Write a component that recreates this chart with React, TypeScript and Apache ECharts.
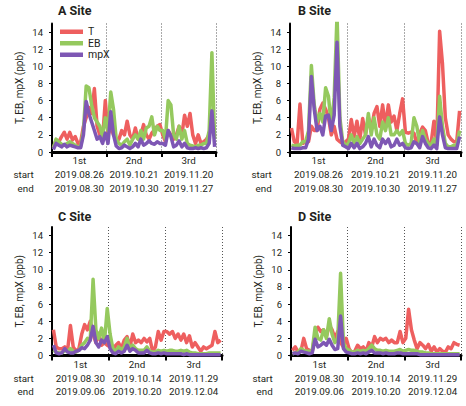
import React, { useEffect, useRef } from "react";
import * as echarts from "echarts";

// Three sampling campaigns per site, 20 readings each (ppb)
const segLabels = ["1st", "2nd", "3rd"];
const yTicks = [0, 2, 4, 6, 8, 10, 12, 14];

const A_start = ["2019.08.26", "2019.10.21", "2019.11.20"];
const A_end = ["2019.08.30", "2019.10.30", "2019.11.27"];
const B_start = ["2019.08.26", "2019.10.21", "2019.11.20"];
const B_end = ["2019.08.30", "2019.10.30", "2019.11.27"];
const C_start = ["2019.08.30", "2019.10.14", "2019.11.29"];
const C_end = ["2019.09.06", "2019.10.20", "2019.12.04"];
const D_start = ["2019.08.30", "2019.10.14", "2019.11.29"];
const D_end = ["2019.09.06", "2019.10.20", "2019.12.04"];

const A_T = [
  0.5, 1.4, 1.2, 1.8, 2.3, 1.5, 2.3, 1.4, 1.8, 1.0, 1.2, 3.0, 4.0, 5.2, 4.5, 7.4, 3.0, 2.0, 1.5, 6.0,
  2.0, 3.0, 2.0, 1.5, 1.5, 2.5, 2.0, 3.6, 2.0, 1.5, 2.8, 1.5, 2.0, 3.2, 2.0, 1.5, 2.2, 2.6, 3.0, 3.2,
  2.0, 1.2, 2.5, 2.0, 1.5, 2.0, 3.0, 2.0, 4.3, 3.0, 4.5, 2.0, 1.0, 2.0, 1.0, 1.2, 1.5, 2.0, 3.5, 1.9,
];
const A_EB = [
  0.5, 1.5, 1.2, 0.9, 0.8, 1.0, 1.2, 1.0, 0.8, 0.6, 0.7, 2.5, 7.7, 7.5, 5.5, 4.0, 3.5, 3.0, 1.8, 4.0,
  2.5, 7.0, 5.0, 1.5, 1.0, 0.8, 1.2, 1.5, 0.8, 1.5, 2.0, 1.5, 2.5, 1.5, 2.8, 3.0, 4.1, 2.0, 3.0, 2.5,
  2.5, 1.5, 6.0, 5.5, 2.0, 1.5, 3.0, 1.5, 2.5, 1.0, 0.8, 0.7, 0.6, 0.8, 0.8, 1.0, 1.0, 2.5, 11.6, 1.5,
];
const A_mpX = [
  0.3, 1.0, 0.8, 0.6, 0.9, 0.6, 0.8, 0.7, 0.6, 0.5, 0.5, 2.0, 5.9, 4.5, 3.5, 2.5, 1.5, 1.8, 1.0, 2.2,
  1.0, 4.7, 2.0, 0.7, 0.4, 0.5, 0.8, 0.6, 0.4, 0.6, 1.0, 0.6, 1.5, 0.8, 1.0, 1.3, 1.0, 0.9, 1.2, 1.0,
  1.0, 0.8, 2.5, 1.8, 0.6, 0.8, 1.3, 0.6, 1.0, 0.5, 0.4, 0.4, 0.5, 0.4, 0.5, 0.4, 0.5, 1.0, 4.8, 0.6,
];

const B_T = [
  2.8, 1.2, 1.0, 5.6, 1.0, 1.2, 1.2, 3.0, 2.5, 2.5, 5.0, 5.7, 5.0, 4.0, 2.0, 3.0, 1.5, 1.2, 1.0, 1.2,
  1.5, 3.8, 1.8, 3.6, 1.5, 3.9, 2.0, 4.0, 2.5, 4.5, 5.3, 3.0, 5.5, 3.0, 5.5, 3.5, 4.2, 2.5, 4.5, 6.2,
  2.3, 2.2, 2.3, 2.2, 1.0, 2.2, 2.9, 2.5, 1.0, 1.0, 3.6, 1.0, 14.1, 10.3, 4.0, 2.0, 1.5, 1.2, 1.2, 4.8,
];
const B_EB = [
  0.8, 0.7, 0.8, 0.8, 1.2, 1.2, 2.5, 10.1, 5.5, 3.5, 4.5, 3.5, 7.5, 6.5, 3.0, 6.4, 16.0, 4.0, 1.2, 0.8,
  1.0, 2.0, 1.0, 1.8, 1.0, 1.5, 2.0, 4.5, 2.0, 4.0, 2.0, 1.5, 3.5, 2.5, 4.0, 2.0, 2.0, 2.5, 2.0, 2.5,
  1.0, 0.8, 1.0, 4.0, 3.0, 1.0, 2.5, 1.5, 1.0, 0.8, 1.5, 0.8, 6.5, 3.0, 1.0, 0.6, 0.6, 0.8, 0.8, 2.5,
];
const B_mpX = [
  0.5, 0.4, 0.4, 0.4, 0.5, 0.5, 1.5, 8.8, 5.0, 2.5, 3.0, 2.0, 4.2, 4.3, 2.5, 4.3, 12.8, 3.0, 0.8, 0.6,
  0.4, 1.0, 0.5, 1.0, 0.4, 0.6, 1.0, 1.8, 0.6, 1.5, 0.8, 0.5, 1.5, 1.0, 1.5, 0.6, 0.8, 1.5, 0.8, 1.0,
  0.5, 0.4, 0.5, 1.2, 1.0, 0.5, 1.8, 1.0, 0.5, 0.4, 0.8, 0.4, 4.1, 2.0, 0.5, 0.4, 0.4, 0.4, 0.4, 1.8,
];

const C_T = [
  3.0, 1.0, 0.8, 0.8, 1.0, 0.6, 3.5, 1.0, 0.5, 0.8, 2.5, 3.6, 3.0, 4.0, 2.5, 1.5, 2.6, 1.2, 1.5, 1.2,
  1.0, 0.5, 1.2, 1.5, 0.8, 1.8, 2.2, 1.0, 2.5, 1.5, 1.8, 1.5, 2.0, 1.6, 2.0, 0.5, 1.0, 2.8, 1.8, 2.8,
  2.8, 2.5, 2.8, 2.0, 2.5, 1.8, 2.5, 1.5, 2.3, 1.0, 1.5, 1.0, 0.5, 1.0, 0.8, 1.0, 1.2, 2.8, 1.5, 1.8,
];
const C_EB = [
  0.6, 0.4, 0.3, 0.3, 0.6, 0.5, 0.8, 0.5, 0.4, 0.6, 1.2, 1.5, 2.0, 1.8, 8.9, 3.0, 2.0, 3.2, 1.5, 5.5,
  2.5, 0.8, 0.5, 1.0, 0.7, 1.0, 2.0, 0.8, 1.2, 0.8, 0.6, 0.6, 0.6, 1.0, 0.5, 0.4, 0.4, 0.6, 0.5, 0.6,
  0.5, 0.6, 0.6, 0.5, 0.5, 0.6, 0.5, 0.6, 0.4, 0.3, 0.3, 0.2, 0.2, 0.2, 0.2, 0.3, 0.3, 0.3, 0.3, 0.3,
];
const C_mpX = [
  1.2, 0.3, 0.2, 0.3, 0.8, 0.4, 0.3, 0.3, 0.5, 0.6, 0.9, 0.8, 1.2, 1.8, 3.4, 1.5, 1.0, 1.8, 1.5, 2.2,
  0.8, 0.3, 0.2, 0.5, 0.3, 0.5, 1.2, 0.5, 0.8, 0.6, 0.3, 0.3, 0.3, 0.6, 0.3, 0.2, 0.2, 0.3, 0.2, 0.3,
  0.2, 0.2, 0.2, 0.2, 0.2, 0.2, 0.1, 0.2, 0.1, 0.1, 0.1, 0.1, 0.1, 0.1, 0.1, 0.1, 0.1, 0.1, 0.1, 0.1,
];

const D_T = [
  0.6, 1.0, 0.4, 0.5, 2.0, 0.8, 0.6, 0.5, 2.5, 3.3, 2.8, 3.0, 2.2, 3.5, 3.0, 2.0, 2.8, 1.5, 1.0, 2.0,
  0.8, 0.3, 0.5, 1.2, 0.8, 1.0, 0.5, 1.5, 1.0, 2.2, 1.5, 2.0, 1.8, 2.0, 1.5, 1.8, 1.5, 1.5, 2.8, 1.5,
  2.0, 5.4, 3.0, 1.8, 0.8, 1.5, 1.2, 0.8, 1.3, 0.5, 1.0, 0.4, 0.8, 0.5, 0.4, 1.0, 0.8, 1.5, 1.3, 1.2,
];
const D_EB = [
  0.2, 0.3, 0.4, 0.8, 0.6, 0.5, 0.5, 0.6, 3.3, 2.0, 1.8, 3.0, 2.0, 4.3, 2.5, 1.5, 2.0, 9.6, 1.5, 0.8,
  0.6, 0.4, 0.4, 0.6, 0.5, 0.6, 0.5, 0.8, 1.2, 0.8, 0.6, 0.6, 0.5, 0.6, 0.5, 0.5, 0.5, 0.6, 0.7, 0.5,
  0.6, 0.7, 0.6, 0.6, 0.5, 0.4, 0.4, 0.3, 0.3, 0.2, 0.2, 0.2, 0.2, 0.2, 0.2, 0.2, 0.2, 0.2, 0.2, 0.2,
];
const D_mpX = [
  0.2, 0.3, 0.2, 0.5, 0.4, 0.3, 0.2, 0.3, 1.9, 1.0, 1.2, 1.5, 1.2, 1.9, 1.2, 0.7, 0.8, 4.6, 0.8, 0.4,
  0.3, 0.2, 0.2, 0.3, 0.2, 0.3, 0.2, 0.4, 0.6, 0.3, 0.3, 0.3, 0.2, 0.3, 0.2, 0.2, 0.2, 0.3, 0.3, 0.2,
  0.2, 0.2, 0.2, 0.2, 0.2, 0.1, 0.1, 0.1, 0.1, 0.1, 0.1, 0.1, 0.1, 0.1, 0.1, 0.1, 0.1, 0.1, 0.1, 0.1,
];

const FONT = "Roboto";
const INK = "#231f20";
const COLORS: Record<string, string> = { T: "#ee5f5f", EB: "#95c95e", mpX: "#7e57b4" };

const panels = [
  { title: "A Site", T: A_T, EB: A_EB, mpX: A_mpX, start: A_start, end: A_end,
    grid: { left: 52, top: 23.5, width: 164, height: 128.5 }, titlePos: { left: 58, top: 4 } },
  { title: "B Site", T: B_T, EB: B_EB, mpX: B_mpX, start: B_start, end: B_end,
    grid: { left: 290, top: 23.5, width: 171, height: 128.5 }, titlePos: { left: 298, top: 4 } },
  { title: "C Site", T: C_T, EB: C_EB, mpX: C_mpX, start: C_start, end: C_end,
    grid: { left: 52, top: 227, width: 170, height: 128.5 }, titlePos: { left: 58, top: 210 } },
  { title: "D Site", T: D_T, EB: D_EB, mpX: D_mpX, start: D_start, end: D_end,
    grid: { left: 291, top: 227, width: 170, height: 128.5 }, titlePos: { left: 298, top: 210 } },
];

function buildOption() {
  const grid: any[] = [];
  const xAxis: any[] = [];
  const yAxis: any[] = [];
  const series: any[] = [];
  const title: any[] = [];

  panels.forEach((p, k) => {
    grid.push({ ...p.grid, containLabel: false });
    title.push({
      text: p.title, ...p.titlePos, padding: 0,
      textStyle: { fontFamily: FONT, fontSize: 12.5, fontWeight: "bold", color: INK },
    });
    const steps = p.T.map((_, i) => String(i));
    // reading index axis (hidden)
    xAxis.push({
      type: "category", gridIndex: k, data: steps, boundaryGap: true, show: false,
    });
    // campaign axis with dates underneath
    xAxis.push({
      type: "category", gridIndex: k, data: segLabels, boundaryGap: true, position: "bottom",
      axisLine: { show: true, lineStyle: { color: "#000", width: 3 } },
      axisTick: { show: true, length: 5, lineStyle: { color: "#000", width: 2 } },
      axisLabel: {
        interval: 0, margin: 2, fontFamily: FONT, fontSize: 9.8, lineHeight: 13.7, color: INK,
        formatter: (v: string, i: number) => `${v}\n${p.start[i]}\n${p.end[i]}`,
      },
      splitLine: { show: true, lineStyle: { color: "#555", width: 1, type: [1, 2] } },
      name: " \nstart\nend", nameLocation: "start", nameGap: 9,
      nameTextStyle: {
        fontFamily: FONT, fontSize: 9.8, lineHeight: 13.7, color: INK,
        align: "right", verticalAlign: "top", padding: [2, 0, 0, 0],
      },
    });
    yAxis.push({
      type: "value", gridIndex: k, min: 0, max: 15, interval: 2,
      axisLine: { show: true, lineStyle: { color: "#000", width: 2 } },
      axisTick: { show: true, length: 3, customValues: yTicks, lineStyle: { color: "#000", width: 1 } },
      axisLabel: { customValues: yTicks, fontFamily: FONT, fontSize: 9.5, color: INK, margin: 9 },
      splitLine: { show: false },
      name: "T, EB, mpX (ppb)", nameLocation: "middle", nameGap: 28,
      nameTextStyle: { fontFamily: FONT, fontSize: 10, color: INK },
    });
    (["T", "EB", "mpX"] as const).forEach((key) => {
      series.push({
        type: "line", name: key, xAxisIndex: 2 * k, yAxisIndex: k, data: p[key],
        symbol: "none", showSymbol: false, clip: true,
        lineStyle: { width: 3.5, color: COLORS[key], join: "round" },
        itemStyle: { color: COLORS[key] },
      });
    });
  });

  return {
    animation: false,
    backgroundColor: "#ffffff",
    title,
    legend: {
      data: ["T", "EB", "mpX"], orient: "vertical", left: 60, top: 26, padding: 0,
      icon: "rect", itemWidth: 23, itemHeight: 4.5, itemGap: 0,
      textStyle: { fontFamily: FONT, fontSize: 10.5, lineHeight: 11.5, color: INK },
    },
    grid, xAxis, yAxis, series,
  };
}

export default function App() {
  const ref = useRef<HTMLDivElement>(null);
  useEffect(() => {
    document.body.style.margin = "0";
    const chart = echarts.init(ref.current!, undefined, { renderer: "svg" });
    chart.setOption(buildOption());
    return () => chart.dispose();
  }, []);
  return <div ref={ref} style={{ width: 466, height: 406 }} />;
}
